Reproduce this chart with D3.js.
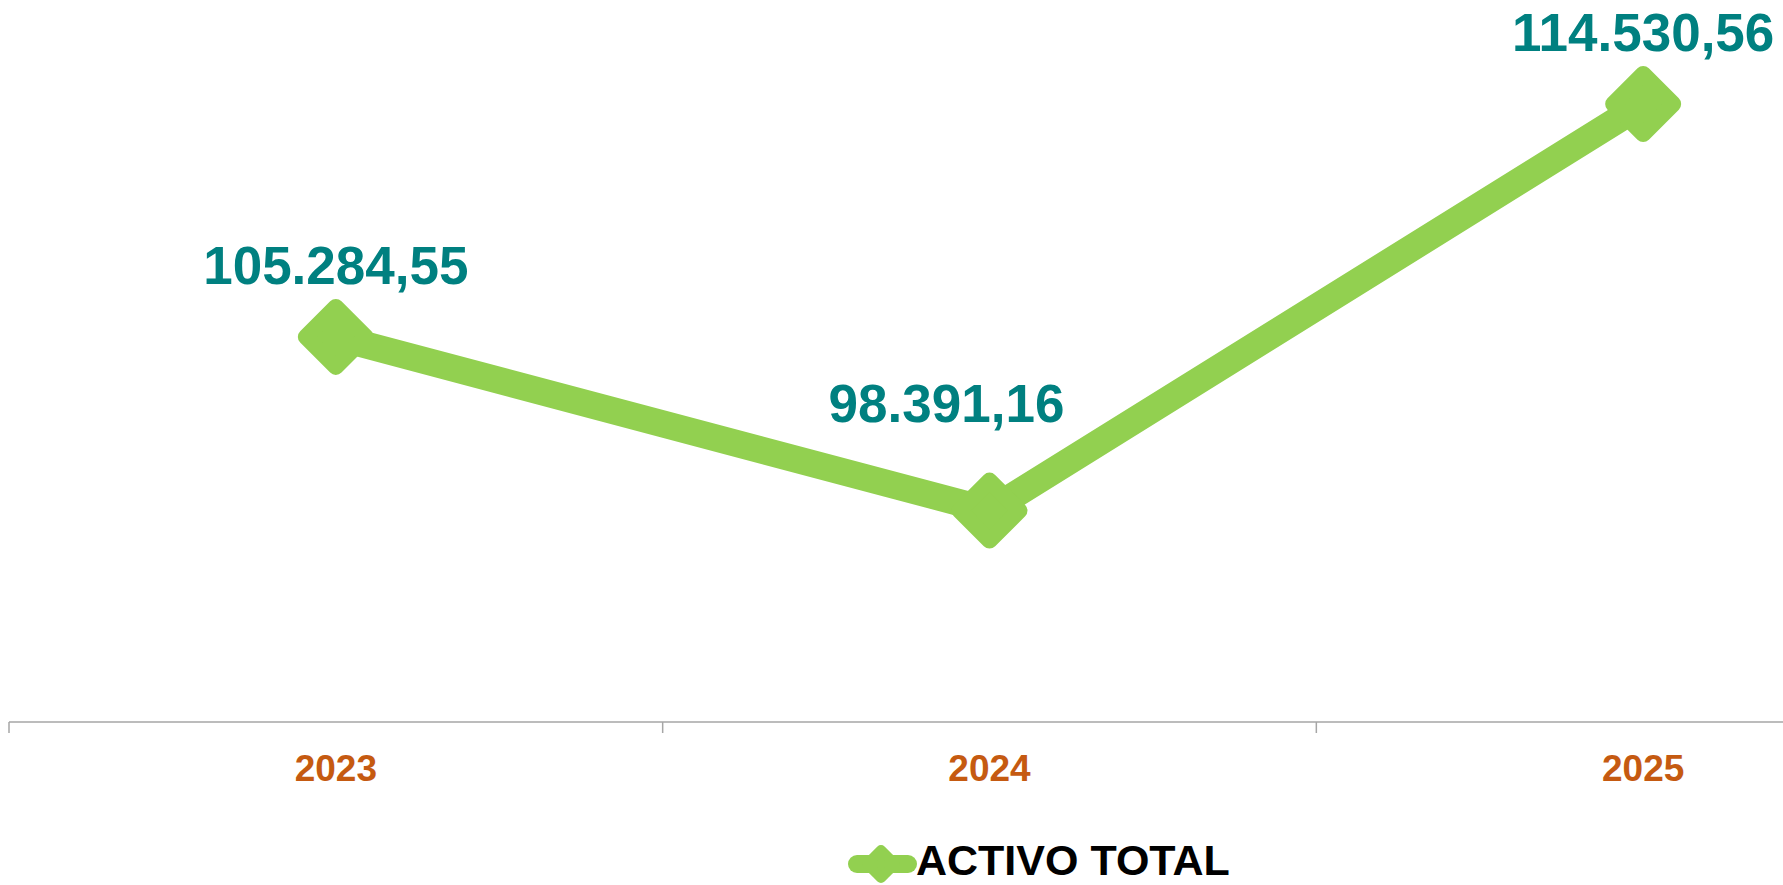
<!DOCTYPE html>
<html>
<head>
<meta charset="utf-8">
<script src="https://cdn.jsdelivr.net/npm/d3@7"></script>
<style>
  html, body { margin: 0; padding: 0; background: #fff; }
  svg { display: block; font-family: "Liberation Sans", Arial, sans-serif; }
</style>
</head>
<body>
<svg id="chart" width="1783" height="885"></svg>
<script>
// data
const years = ['2023', '2024', '2025']
const activoTotal = [105284.55, 98391.16, 114530.56]
const seriesName = 'ACTIVO TOTAL'

// hand-moved label (the 2024 one sits up and to the left in the original)
const labelNudge = { '2024': [-43, -36] }

const W = 1783, H = 885
const green = '#92D050', teal = '#008080', orange = '#C55A11'

const svg = d3.select('#chart')

const x = d3.scaleBand().domain(years).range([9, 1970])
const y = d3.scaleLinear().domain([90000, 116000]).range([722, 67])

const fmt = d3.formatLocale({ decimal: ',', thousands: '.', grouping: [3], currency: ['', ''] }).format(',.2f')

const pts = years.map((d, i) => ({ year: d, value: activoTotal[i] }))
const cx = d => x(d.year) + x.bandwidth() / 2

// category axis: line + boundary ticks
const axisY = y.range()[0]
svg.append('line')
  .attr('x1', x.range()[0]).attr('x2', W)
  .attr('y1', axisY).attr('y2', axisY)
  .attr('stroke', '#A6A6A6').attr('stroke-width', 1.5)
svg.selectAll('line.btick')
  .data(years.concat(['end']))
  .enter().append('line')
  .attr('class', 'btick')
  .attr('x1', (d, i) => x.range()[0] + i * x.step())
  .attr('x2', (d, i) => x.range()[0] + i * x.step())
  .attr('y1', axisY).attr('y2', axisY + 11)
  .attr('stroke', '#A6A6A6').attr('stroke-width', 1.5)

const xAxis = svg.append('g')
  .attr('transform', `translate(0,${axisY})`)
  .call(d3.axisBottom(x).tickSize(0).tickPadding(0))
xAxis.select('.domain').remove()
xAxis.selectAll('text')
  .attr('y', 59).attr('dy', null)
  .attr('fill', orange)
  .style('font-size', '37px').style('font-weight', 'bold')
  .style('font-family', '"Liberation Sans", Arial, sans-serif')

// series line
const line = d3.line().x(cx).y(d => y(d.value))
svg.append('path')
  .datum(pts)
  .attr('d', line)
  .attr('fill', 'none')
  .attr('stroke', green)
  .attr('stroke-width', 27)
  .attr('stroke-linejoin', 'round')

// diamond markers
const diamond = r => `M0,${-r}L${r},0L0,${r}L${-r},0Z`
svg.selectAll('path.mark')
  .data(pts)
  .enter().append('path')
  .attr('class', 'mark')
  .attr('transform', d => `translate(${cx(d)},${y(d.value)})`)
  .attr('d', diamond(30))
  .attr('fill', green)
  .attr('stroke', green)
  .attr('stroke-width', 16)
  .attr('stroke-linejoin', 'round')

// data labels
svg.selectAll('text.lbl')
  .data(pts)
  .enter().append('text')
  .attr('class', 'lbl')
  .attr('x', d => cx(d) + (labelNudge[d.year] ? labelNudge[d.year][0] : 0))
  .attr('y', d => y(d.value) - 53 + (labelNudge[d.year] ? labelNudge[d.year][1] : 0))
  .attr('text-anchor', 'middle')
  .attr('fill', teal)
  .style('font-size', '53px').style('font-weight', 'bold')
  .text(d => fmt(d.value))

// legend (kept just inside the bottom edge)
const leg = svg.append('g').attr('transform', 'translate(0,864)')
leg.append('line')
  .attr('x1', 857).attr('x2', 908).attr('y1', 0).attr('y2', 0)
  .attr('stroke', green).attr('stroke-width', 18).attr('stroke-linecap', 'round')
leg.append('path')
  .attr('transform', 'translate(881,0)')
  .attr('d', diamond(14))
  .attr('fill', green).attr('stroke', green)
  .attr('stroke-width', 10).attr('stroke-linejoin', 'round')
leg.append('text')
  .attr('x', 916).attr('y', 11)
  .attr('fill', '#000')
  .style('font-size', '43px').style('font-weight', 'bold')
  .text(seriesName)
</script>
</body>
</html>
